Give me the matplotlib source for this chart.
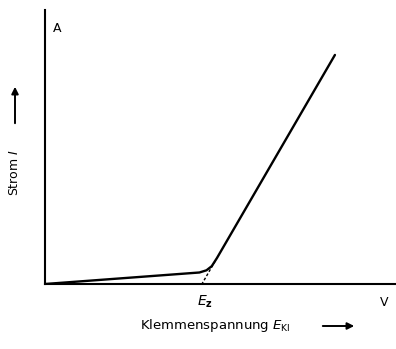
import matplotlib.pyplot as plt

plt.rcParams['font.family'] = ['DejaVu Sans']

# Kennlinie (willkuerliche Einheiten)
spannung = [0.0, 4.4, 4.6, 4.75, 4.9, 8.26]
strom = [0.0, 0.42, 0.5, 0.65, 0.95, 8.36]
# gestrichelte Verlaengerung bis zur Achse
ext_x = [4.85, 4.47]
ext_y = [0.84, 0.0]

fig = plt.figure(figsize=(3.96, 3.49), dpi=100)
ax = fig.add_axes([45 / 396, 65 / 349, 351 / 396, 274 / 349])
ax.plot(spannung, strom, color='black', lw=1.7, solid_capstyle='round')
ax.plot(ext_x, ext_y, color='black', lw=1.0, ls=(0, (2, 1.5)))
ax.set_xlim(0, 10)
ax.set_ylim(0, 10)
for s in ['top', 'right']:
    ax.spines[s].set_visible(False)
for s in ['left', 'bottom']:
    ax.spines[s].set_linewidth(1.5)
ax.set_xticks([])
ax.set_yticks([])
ax.patch.set_alpha(0)

fs = 9
fig.text(57 / 396, 1 - 28 / 349, 'A', fontsize=fs, ha='center', va='center')
fig.text(384 / 396, 1 - 302 / 349, 'V', fontsize=fs, ha='center', va='center')
fig.text(205 / 396, 1 - 302 / 349, r'$E_\mathbf{z}$', fontsize=fs + 1, ha='center', va='center')
fig.text(15 / 396, 1 - 172 / 349, r'Strom $I$', fontsize=fs, rotation=90,
         ha='center', va='center')
fig.text(140 / 396, 1 - 326 / 349, r'Klemmenspannung $E_\mathrm{Kl}$', fontsize=fs + 0.5,
         ha='left', va='center')
ax.annotate('', xy=(15 / 396, 1 - 84 / 349), xytext=(15 / 396, 1 - 126 / 349),
            xycoords='figure fraction', textcoords='figure fraction', annotation_clip=False,
            arrowprops=dict(arrowstyle='-|>', color='black', lw=1.4, mutation_scale=10))
ax.annotate('', xy=(357 / 396, 1 - 326 / 349), xytext=(320 / 396, 1 - 326 / 349),
            xycoords='figure fraction', textcoords='figure fraction', annotation_clip=False,
            arrowprops=dict(arrowstyle='-|>', color='black', lw=1.4, mutation_scale=10))

fig.savefig('out.png', dpi=100)
